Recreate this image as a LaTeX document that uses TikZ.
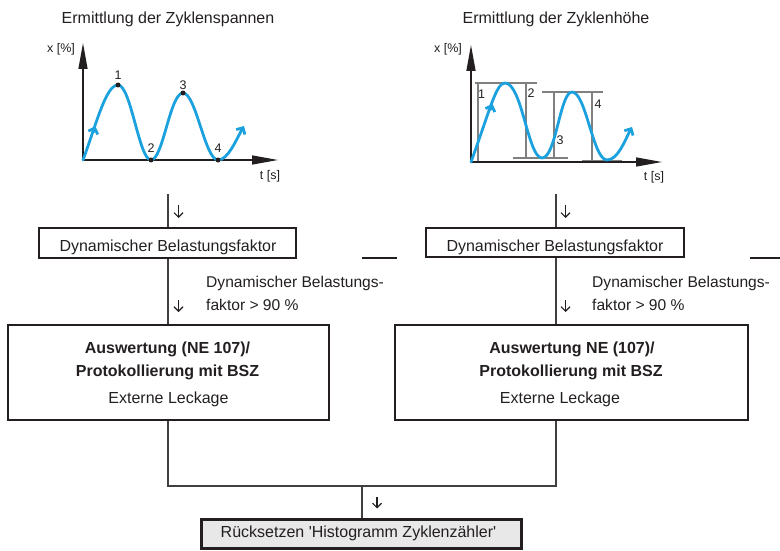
\documentclass[tikz,border=0pt]{standalone}
\usepackage{fontspec}
\setmainfont{Liberation Sans}[Ligatures=TeXOff]
\usetikzlibrary{arrows.meta}
\definecolor{ink}{HTML}{231F20}
\definecolor{linec}{HTML}{404040}
\definecolor{curvec}{HTML}{1BA1DD}
\definecolor{guidec}{HTML}{808080}
\definecolor{resetfill}{HTML}{E8E8E8}
\begin{document}
\begin{tikzpicture}[x=1pt,y=-1pt,
  txt/.style={font=\fontsize{16}{19}\selectfont, text=ink, inner sep=0, anchor=base},
  btxt/.style={font=\fontsize{16}{19}\selectfont\bfseries, text=ink, inner sep=0, anchor=base},
  ctxt/.style={font=\fontsize{15.6}{19}\selectfont, text=ink, inner sep=0, anchor=base west},
  small/.style={font=\fontsize{12.5}{15}\selectfont, text=ink, inner sep=0, anchor=base},
  boxn/.style={draw=ink, line width=2.2pt, inner sep=0},
  resetbox/.style={draw=ink, line width=2.6pt, fill=resetfill, inner sep=0},
  conn/.style={draw=linec, line width=1.1pt},
  stub/.style={draw=ink, line width=1.6pt},
  marker/.style={draw=ink, line width=1.1pt, -{Straight Barb[length=4.5pt,width=9pt]}},
  axis/.style={draw=ink, line width=1.3pt, -{Triangle[length=26pt,width=9pt]}},
  guide/.style={draw=guidec, line width=1.2pt},
  wave/.style={draw=curvec, line width=2.8pt, line cap=round, line join=round},
  wavetip/.style={wave, -{Straight Barb[length=5pt,width=10pt]}},
  dotm/.style={fill=ink, draw=none, circle, inner sep=0, minimum size=5pt}
]
\useasboundingbox (0,0) rectangle (780,551);

% ---------- titles ----------
\node[txt] (tL) at (168,24) {Ermittlung der Zyklenspannen};
\node[txt] (tR) at (556,24) {Ermittlung der Zyklenhöhe};

% ---------- left graph ----------
\coordinate (oL) at (83,160);
\coordinate (yL) at (83,43);
\coordinate (xL) at (278,160);
\draw[axis] (oL) -- (yL);
\draw[axis] (oL) -- (xL);
\node[small] (xlabL) at (61,53) {x [\%]};
\node[small] (tlabL) at (270,179) {t [s]};
\draw[wave] (oL) .. controls (97,122) and (106,85) .. (118,85)
  .. controls (131,85) and (139,160) .. (151,160)
  .. controls (163,160) and (170,93) .. (183,93)
  .. controls (196,93) and (205,160) .. (218,160);
\draw[wavetip] (218,160) .. controls (228,160) and (236,140) .. (244,126);
\coordinate (mLa) at (93.2,132.3);
\coordinate (mLb) at (95.4,126.2);
\draw[wavetip] (mLa) -- (mLb);
\node[dotm] (p1) at (118,85) {};
\node[dotm] (p2) at (151,160) {};
\node[dotm] (p3) at (183,93) {};
\node[dotm] (p4) at (218,160) {};
\node[small] (n1) at (118,80) {1};
\node[small] (n2) at (151,152) {2};
\node[small] (n3) at (183,90) {3};
\node[small] (n4) at (218,153) {4};

% ---------- right graph ----------
\coordinate (oR) at (471,162);
\coordinate (yR) at (471,45);
\coordinate (xR) at (662,162);
\draw[guide] (475,83) -- (537,83);
\draw[guide] (542,92) -- (603,92);
\draw[guide] (513,158) -- (568,158);
\draw[guide] (582,160.5) -- (622,160.5);
\draw[guide] (478,83) -- (478,162);
\draw[guide] (526,83) -- (526,158);
\draw[guide] (554,92) -- (554,158);
\draw[guide] (592,92) -- (592,160.5);
\draw[axis] (oR) -- (yR);
\draw[axis] (oR) -- (xR);
\node[small] (xlabR) at (448,53) {x [\%]};
\node[small] (tlabR) at (654,180) {t [s]};
\draw[wave] (oR) .. controls (490,110) and (496,83) .. (505,83)
  .. controls (522,83) and (528,158) .. (542,158)
  .. controls (556,158) and (560,92) .. (572,92)
  .. controls (586,92) and (593,160) .. (607,160);
\draw[wavetip] (607,160) .. controls (618,160) and (625,140) .. (632,127);
\coordinate (mRa) at (490.4,109.6);
\coordinate (mRb) at (492.6,103.8);
\draw[wavetip] (mRa) -- (mRb);
\node[small] (m1) at (481.5,99) {1};
\node[small] (m2) at (531,98) {2};
\node[small] (m3) at (560,145) {3};
\node[small] (m4) at (598,109) {4};

% ---------- boxes ----------
\node[boxn, minimum width=257pt, minimum height=30pt] (dynL) at (167.5,243) {};
\node[boxn, minimum width=258pt, minimum height=29pt] (dynR) at (555,242.5) {};
\node[boxn, minimum width=321pt, minimum height=95pt] (evalL) at (168.5,372.5) {};
\node[boxn, minimum width=353pt, minimum height=95pt] (evalR) at (571.5,372.5) {};
\node[resetbox, minimum width=320pt, minimum height=29.4pt] (reset) at (361.5,534) {};

\node[txt] (dynLt) at (168,251.5) {Dynamischer Belastungsfaktor};
\node[txt] (dynRt) at (555,251) {Dynamischer Belastungsfaktor};
\node[btxt] (evL1) at (167.5,353) {Auswertung (NE 107)/};
\node[btxt] (evL2) at (167.5,376) {Protokollierung mit BSZ};
\node[txt] (evL3) at (168.5,403) {Externe Leckage};
\node[btxt] (evR1) at (572,353) {Auswertung NE (107)/};
\node[btxt] (evR2) at (571,376) {Protokollierung mit BSZ};
\node[txt] (evR3) at (560,403) {Externe Leckage};
\node[txt] (resett) at (358.5,537) {Rücksetzen 'Histogramm Zyklenzähler'};

\node[ctxt] (cL1) at (206,287) {Dynamischer Belastungs-};
\node[ctxt] (cL2) at (206,310) {faktor > 90 \%};
\node[ctxt] (cR1) at (592,287) {Dynamischer Belastungs-};
\node[ctxt] (cR2) at (592,310) {faktor > 90 \%};

% ---------- connectors ----------
\coordinate (inL) at (168,194);
\coordinate (inR) at (556,194);
\coordinate (join) at (362,486);
\draw[conn] (inL) -- (inL |- dynL.north);
\draw[conn] (inR) -- (inR |- dynR.north);
\draw[conn] (inL |- dynL.south) -- (inL |- evalL.north);
\draw[conn] (inR |- dynR.south) -- (inR |- evalR.north);
\draw[conn] (inL |- evalL.south) -- (inL |- join) -- (inR |- join) -- (inR |- evalR.south);
\draw[conn] (join) -- (join |- reset.north);

% ---------- small direction marks ----------
\coordinate (aL1) at (178.5,205); \coordinate (bL1) at (178.5,218);
\coordinate (aL2) at (178.5,300); \coordinate (bL2) at (178.5,312);
\coordinate (aR1) at (565.5,205); \coordinate (bR1) at (565.5,218);
\coordinate (aR2) at (565.5,300); \coordinate (bR2) at (565.5,312);
\coordinate (aJ) at (377,496.5); \coordinate (bJ) at (377,508.5);
\draw[marker] (aL1) -- (bL1);
\draw[marker] (aL2) -- (bL2);
\draw[marker] (aR1) -- (bR1);
\draw[marker] (aR2) -- (bR2);
\draw[marker] (aJ) -- (bJ);

% ---------- stray short lines ----------
\coordinate (sA1) at (362,258); \coordinate (sA2) at (397,258);
\coordinate (sB1) at (750,258); \coordinate (sB2) at (780,258);
\draw[stub] (sA1) -- (sA2);
\draw[stub] (sB1) -- (sB2);
\end{tikzpicture}
\end{document}
